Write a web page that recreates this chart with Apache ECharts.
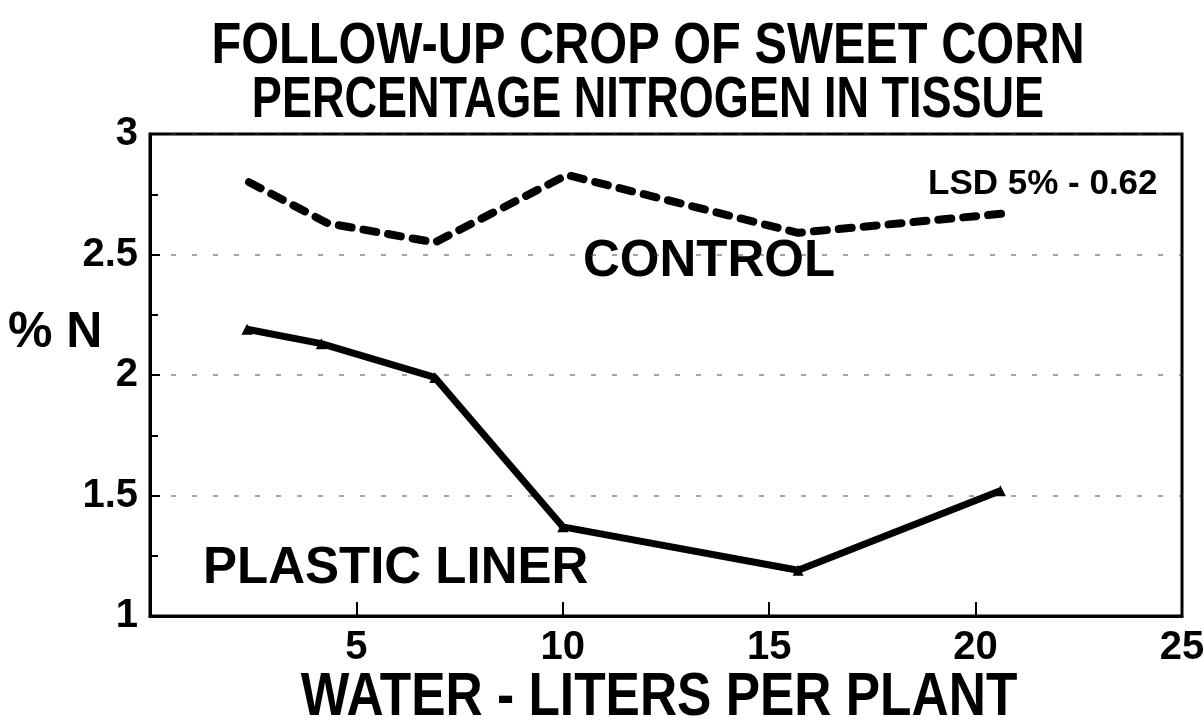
<!DOCTYPE html>
<html>
<head>
    <meta charset="UTF-8">
    <script src="https://cdn.jsdelivr.net/npm/echarts@6/dist/echarts.min.js"></script>
    <title>Sweet corn nitrogen</title>
    <style>
        html, body { margin: 0; padding: 0; background: #fff; }
        #chart { width: 1204px; height: 726px; }
    </style>
</head>
<body>
<div id="chart"></div>
<script>
    // water applied, liters per plant
    var waterControl = [2.4, 4.3, 6.9, 10.1, 15.7, 20.7];
    var waterLiner = [2.35, 4.15, 6.9, 10.0, 15.7, 20.6];
    // % N in tissue
    var controlN = [2.80, 2.63, 2.55, 2.83, 2.59, 2.67];
    var linerN = [2.19, 2.13, 1.99, 1.37, 1.19, 1.52];

    var titleLines = ['FOLLOW-UP CROP OF SWEET CORN', 'PERCENTAGE NITROGEN IN TISSUE'];
    var xName = 'WATER - LITERS PER PLANT';

    var font = '"Liberation Sans", Arial, sans-serif';

    function pairs(xs, ys) {
        var out = [];
        for (var i = 0; i < xs.length; i++) out.push([xs[i], ys[i]]);
        return out;
    }

    // condensed bold text (no narrow face installed, so squeeze it)
    function squeezed(str, x, y, size, sx) {
        return {
            type: 'text', x: x, y: y, scaleX: sx,
            style: {
                text: str, fontFamily: font, fontWeight: 'bold', fontSize: size,
                fill: '#000', textAlign: 'center', textVerticalAlign: 'middle'
            }
        };
    }

    var chart = echarts.init(document.getElementById('chart'));
    chart.setOption({
        animation: false,
        backgroundColor: '#fff',
        grid: {
            left: 150, right: 22, top: 134, bottom: 110,
            outerBoundsMode: 'none',
            show: true, borderColor: '#000', borderWidth: 3
        },
        xAxis: {
            type: 'value', min: 0, max: 25, interval: 5,
            axisLine: {show: true, lineStyle: {color: '#000', width: 3}},
            axisTick: {show: true, inside: true, length: 14, lineStyle: {color: '#000', width: 2}},
            axisLabel: {
                margin: 12, color: '#000', fontFamily: font, fontWeight: 'bold', fontSize: 40,
                formatter: function (v) { return v === 0 ? '' : String(v); }
            },
            splitLine: {show: false}
        },
        yAxis: {
            type: 'value', min: 1, max: 3, interval: 0.5,
            axisLine: {show: true, lineStyle: {color: '#000', width: 3}},
            axisTick: {show: true, inside: true, length: 10, lineStyle: {color: '#000', width: 2}},
            minorTick: {show: true, splitNumber: 2, length: 8, lineStyle: {color: '#000', width: 2}},
            axisLabel: {margin: 12, color: '#000', fontFamily: font, fontWeight: 'bold', fontSize: 40},
            splitLine: {show: true, lineStyle: {color: '#333', width: 1.5, type: [5, 16], opacity: 0.6}}
        },
        graphic: [
            squeezed(titleLines[0], 648, 47, 58, 0.84),
            squeezed(titleLines[1], 648, 101, 57, 0.79),
            squeezed(xName, 659, 698, 62, 0.83),
            {
                type: 'text', left: 8, top: 308,
                style: {text: '% N', fontFamily: font, fontWeight: 'bold', fontSize: 50, fill: '#000'}
            },
            {
                type: 'text', left: 583, top: 236,
                style: {text: 'CONTROL', fontFamily: font, fontWeight: 'bold', fontSize: 51, fill: '#000'}
            },
            {
                type: 'text', left: 203, top: 543,
                style: {text: 'PLASTIC LINER', fontFamily: font, fontWeight: 'bold', fontSize: 51, fill: '#000'}
            },
            {
                type: 'text', left: 928, top: 167,
                style: {text: 'LSD 5% - 0.62', fontFamily: font, fontWeight: 'bold', fontSize: 35, fill: '#000'}
            }
        ],
        series: [
            {
                name: 'Control', type: 'line', data: pairs(waterControl, controlN),
                symbol: 'none',
                lineStyle: {color: '#000', width: 8, type: [13, 12], cap: 'round'}
            },
            {
                name: 'Plastic liner', type: 'line', data: pairs(waterLiner, linerN),
                symbol: 'triangle', symbolSize: 11, itemStyle: {color: '#000'},
                lineStyle: {color: '#000', width: 7}
            }
        ]
    });
</script>
</body>
</html>
